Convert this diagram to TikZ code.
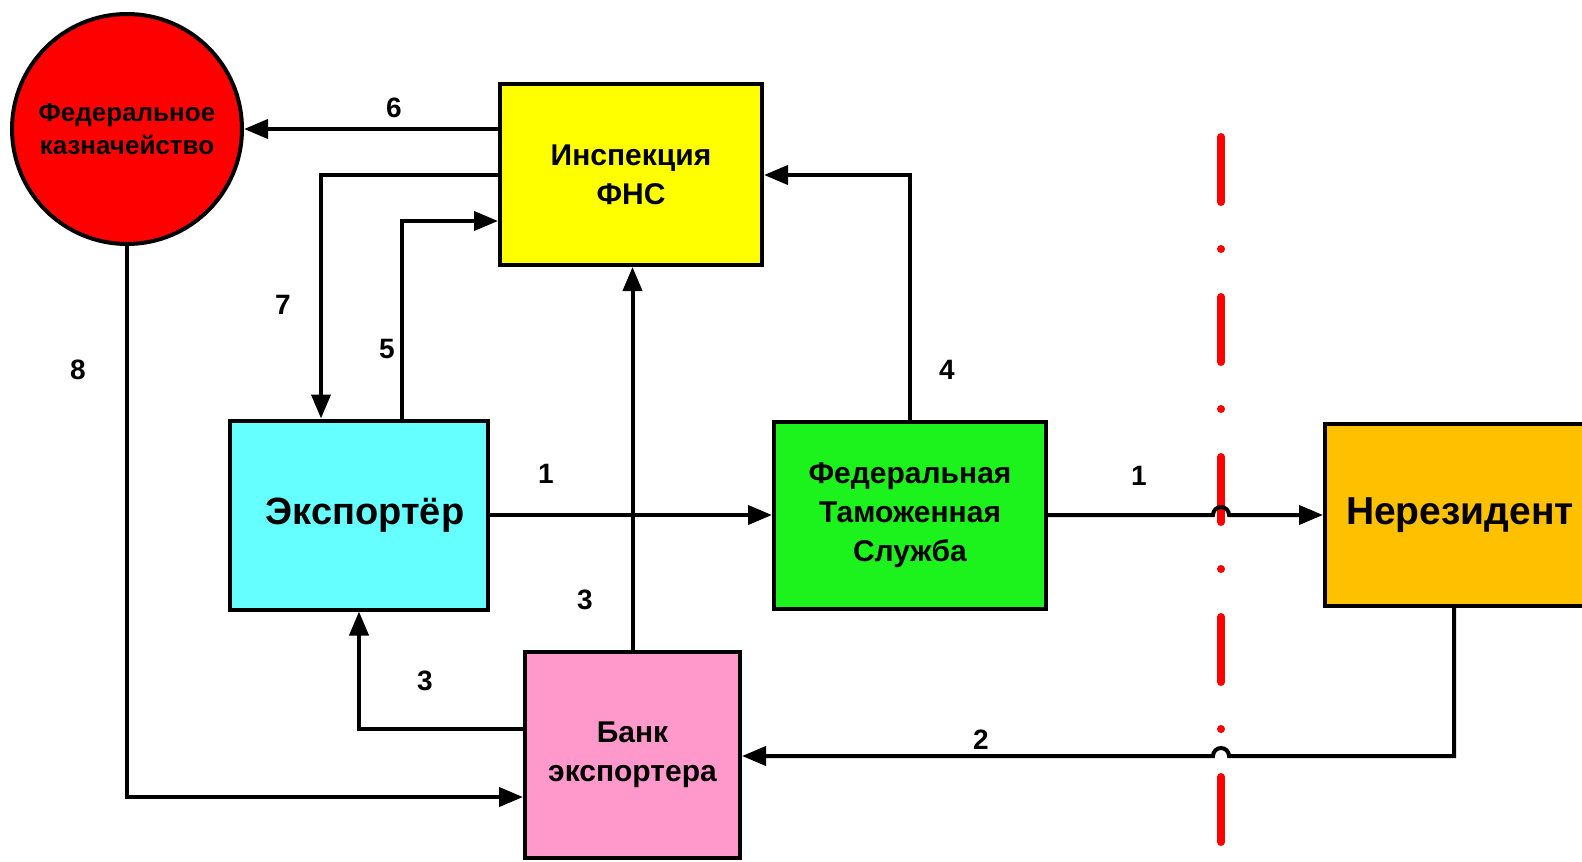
\documentclass[tikz,border=0pt]{standalone}
\usepackage{fontspec}
\setmainfont{Liberation Sans}
\usetikzlibrary{arrows.meta}
\definecolor{cRed}{HTML}{FF0000}
\definecolor{cYel}{HTML}{FFFF00}
\definecolor{cCyan}{HTML}{66FFFF}
\definecolor{cGreen}{HTML}{1CF21C}
\definecolor{cOrange}{HTML}{FFC000}
\definecolor{cPink}{HTML}{FF99CC}
\definecolor{cLine}{HTML}{FF0000}
\tikzset{
  box/.style={draw=black, line width=2pt, rectangle, inner sep=0pt, align=center, font=\bfseries\fontsize{15}{19.5}\selectfont},
  arr/.style={line width=2pt, -{Triangle[length=12pt,width=9.5pt]}},
  lbl/.style={font=\bfseries\fontsize{14}{16}\selectfont, inner sep=0pt},
  border/.style={draw=cLine, line width=4pt, line cap=round, dash pattern=on 32.5pt off 23.5pt on 0pt off 24pt}
}
\begin{document}
\begin{tikzpicture}[x=0.5pt,y=-0.5pt]
\useasboundingbox (0,0) rectangle (1582,861);
\clip (0,0) rectangle (1582,861);
\fill[white] (0,0) rectangle (1582,861);
% border line
\coordinate (rt) at (1221,137);
\coordinate (rb) at (1221,842);
\draw[border] (rt) -- (rb);
% nodes
\node[draw=black, line width=2pt, circle, fill=cRed, minimum size=115pt, inner sep=0pt, align=center, font=\bfseries\fontsize{13}{16.5}\selectfont] (circ) at (127,129) {Федеральное\\казначейство};
\node[box, fill=cYel, minimum width=131pt, minimum height=90.5pt] (insp) at (631,174.5) {Инспекция\\ФНС};
\node[box, fill=cCyan, minimum width=129pt, minimum height=94.5pt, font=\bfseries\fontsize{19}{22}\selectfont] (exp) at (359,515) {\hspace{6pt}Экспортёр};
\node[box, fill=cGreen, minimum width=136pt, minimum height=93.5pt] (fts) at (910,515) {Федеральная\\Таможенная\\Служба};
\node[box, fill=cOrange, minimum width=135pt, minimum height=91pt, font=\bfseries\fontsize{19.5}{22}\selectfont] (nres) at (1460,515) {Нерезидент};
\node[box, fill=cPink, minimum width=107.5pt, minimum height=103pt] (bank) at (632.5,755) {Банк\\экспортера};
% bend coordinates
\coordinate (b7) at (321,175);
\coordinate (b5) at (402,221);
\coordinate (b4) at (910,175);
\coordinate (b3) at (359,729);
\coordinate (j1) at (1221,515);
\coordinate (b2) at (1454,756);
\coordinate (j2) at (1221,756);
\coordinate (b8) at (127,797);
% connectors
\draw[arr] (insp.west |- circ.east) -- (circ.east);
\draw[arr] (insp.west |- b7) -- (b7) -- (b7 |- exp.north);
\draw[arr] (b5 |- exp.north) -- (b5) -- (b5 -| insp.west);
\draw[arr] (b4 |- fts.north) -- (b4) -- (b4 -| insp.east);
\draw[arr] (bank.north) -- (bank.north |- insp.south);
\draw[arr] (b3 -| bank.west) -- (b3) -- (b3 |- exp.south);
\draw[arr] (exp.east) -- (fts.west);
\draw[arr] (fts.east) -- ([xshift=-4pt]j1) arc[start angle=180, end angle=0, radius=4pt] -- (nres.west);
\draw[arr] (b2 |- nres.south) -- (b2) -- ([xshift=4pt]j2) arc[start angle=0, end angle=180, radius=4pt] -- (b2 -| bank.east);
\draw[arr] (circ.south) -- (b8) -- (b8 -| bank.west);
% labels
\node[lbl] (l6) at (394,108) {6};
\node[lbl] (l7) at (283,305) {7};
\node[lbl] (l5) at (387,349) {5};
\node[lbl] (l8) at (78,370) {8};
\node[lbl] (l4) at (947,370) {4};
\node[lbl] (l1a) at (546,474) {1};
\node[lbl] (l1b) at (1139,476) {1};
\node[lbl] (l3a) at (585,600) {3};
\node[lbl] (l3b) at (425,681) {3};
\node[lbl] (l2) at (981,740) {2};
\end{tikzpicture}
\end{document}
